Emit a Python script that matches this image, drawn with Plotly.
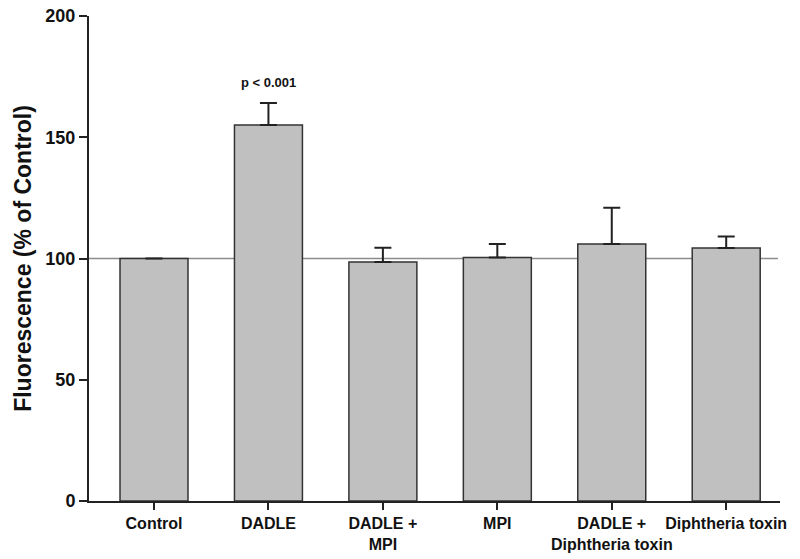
import plotly.graph_objects as go

categories = ["Control", "DADLE", "DADLE +<br>MPI", "MPI", "DADLE +<br>Diphtheria toxin", "Diphtheria toxin"]
values = [100.0, 155.1, 98.6, 100.4, 106.0, 104.3]
errors = [0.0, 9.0, 5.8, 5.6, 14.9, 4.8]
y_ticks = [0, 50, 100, 150, 200]
annotation_text = "p < 0.001"
reference_value = 100

FONT = "Arial, Liberation Sans, Helvetica, sans-serif"

fig = go.Figure()
fig.add_trace(go.Bar(
    x=list(range(len(categories))),
    y=values,
    marker=dict(color="#c0c0c0", line=dict(color="#333333", width=1.5)),
    width=0.594,
    error_y=dict(type="data", array=errors, arrayminus=[0] * len(errors),
                 symmetric=False, color="#222222", thickness=2, width=8.5),
    showlegend=False,
))

fig.add_shape(type="line", xref="paper", yref="y", x0=0, x1=0.997,
              y0=reference_value, y1=reference_value,
              line=dict(color="#8c8c8c", width=1.5), layer="below")

fig.add_annotation(x=1, y=values[1] + errors[1], text="<b>" + annotation_text + "</b>",
                   showarrow=False, yanchor="bottom", yshift=11,
                   font=dict(family=FONT, size=13, color="#111111"))

# page body has an 8px margin, so the figure is sized/offset to compensate
fig.update_layout(
    width=792, height=551,
    margin=dict(l=81, r=20, t=8, b=58),
    plot_bgcolor="white", paper_bgcolor="white",
    font=dict(family=FONT, color="#111111"),
    bargap=0.406,
)
fig.update_xaxes(
    range=[-0.568, 5.47],
    tickmode="array", tickvals=list(range(len(categories))),
    ticktext=["<b>" + c + "</b>" for c in categories],
    tickfont=dict(family=FONT, size=16, color="#111111"),
    tickangle=0, automargin=False, ticklabeloverflow="allow",
    showline=True, linecolor="#222222", linewidth=2,
    ticks="outside", ticklen=7, tickwidth=1.5, tickcolor="#222222",
    showgrid=False, zeroline=False,
)
fig.update_yaxes(
    range=[0, 200],
    tickmode="array", tickvals=y_ticks,
    ticktext=["<b>%d</b>" % t for t in y_ticks],
    tickfont=dict(family=FONT, size=18, color="#111111"),
    automargin=False, ticklabeloverflow="allow",
    showline=True, linecolor="#222222", linewidth=2,
    ticks="outside", ticklen=8, tickwidth=1.5, tickcolor="#222222",
    showgrid=False, zeroline=False,
    title=dict(text="<b>Fluorescence (% of Control)</b>",
               font=dict(family=FONT, size=23, color="#111111"), standoff=7),
)

fig.write_html("out.html")
